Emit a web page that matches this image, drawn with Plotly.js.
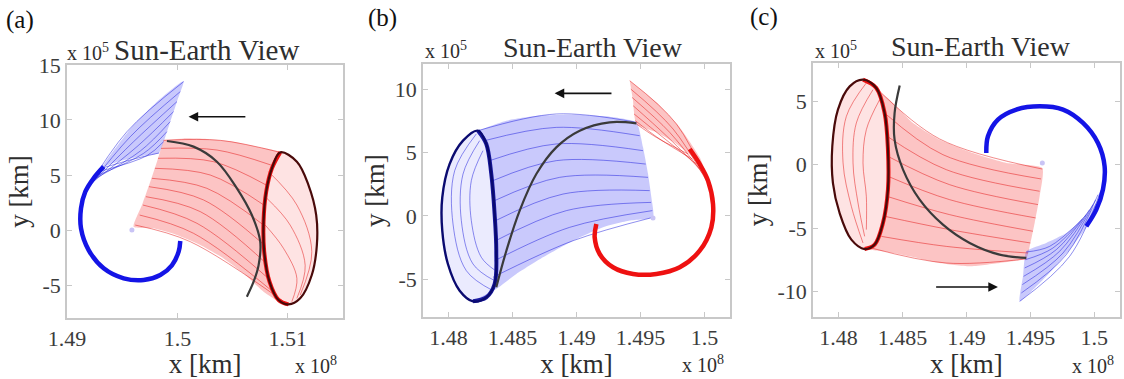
<!DOCTYPE html>
<html>
<head>
<meta charset="utf-8">
<script src="https://cdn.plot.ly/plotly-3.0.1.min.js"></script>
<style>
  html, body { margin: 0; padding: 0; background: #fff; }
  #chart { width: 1124px; height: 379px; }
</style>
</head>
<body>
<div id="chart"></div>
<script>
// Units: x in 1e8 km, y in 1e5 km (exponent shown beside each axis).

// ---------- Panel (a) ----------
const aXTicks = [1.49, 1.5, 1.51];
const aXTickText = ['1.49', '1.5', '1.51'];
const aYTicks = [-5, 0, 5, 10, 15];
const aYTickText = ['-5', '0', '5', '10', '15'];

const aOrbitX = [1.50931, 1.51082, 1.51187, 1.51257, 1.51263, 1.51217, 1.51112, 1.51006, 1.50916, 1.50834, 1.50786, 1.50780, 1.50804, 1.50856, 1.50931];
const aOrbitY = [7.06, 6.21, 4.09, 1.36, -1.36, -4.09, -6.21, -6.76, -6.36, -4.70, -1.97, 0.76, 3.48, 5.61, 7.06];
const aTrajX = [1.49905, 1.50146, 1.50358, 1.50539, 1.50674, 1.50750, 1.50735, 1.50690, 1.50629];
const aTrajY = [8.09, 7.58, 6.21, 3.79, 1.36, -1.06, -3.21, -4.70, -6.06];
const aSpiralX = [1.50026, 1.50011, 1.49950, 1.49845, 1.49694, 1.49513, 1.49332, 1.49196, 1.49127, 1.49127, 1.49166, 1.49241, 1.49332];
const aSpiralY = [-1.0, -1.97, -3.21, -4.09, -4.55, -4.39, -3.48, -1.82, 0.15, 1.97, 3.48, 4.70, 5.76];
const aBlueFanX = [1.49166, 1.49392, 1.49603, 1.49815, 1.50056, 1.49996, 1.49935, 1.49875, 1.49830, 1.49694, 1.49513, 1.49332];
const aBlueFanY = [3.48, 6.82, 9.55, 11.67, 13.55, 11.67, 9.85, 8.03, 6.97, 6.76, 6.36, 5.76];
// each row: start x, start y, mid x, mid y, end x, end y
const aBlueLines = [
  [1.49166, 3.48, 1.49543, 8.94, 1.50056, 13.48],
  [1.49187, 3.79, 1.49573, 8.48, 1.50026, 12.58],
  [1.49211, 4.09, 1.49603, 8.03, 1.49996, 11.67],
  [1.49235, 4.39, 1.49634, 7.58, 1.49965, 10.76],
  [1.49259, 4.70, 1.49664, 7.18, 1.49935, 9.85],
  [1.49284, 5.00, 1.49694, 6.97, 1.49905, 8.94],
  [1.49308, 5.36, 1.49724, 6.76, 1.49875, 8.03],
  [1.49332, 5.67, 1.49603, 6.45, 1.49833, 7.00]
];
// outline of the red family: top edge, orbit-facing side, lower edge, start edge
const aRedFanX = [1.49875, 1.50056, 1.50267, 1.50509, 1.50720, 1.50931, 1.50856, 1.50804, 1.50780, 1.50786, 1.50834, 1.50916, 1.51006, 1.50931, 1.50780, 1.50599, 1.50418, 1.50207, 1.49996, 1.49784, 1.49603, 1.49679, 1.49754, 1.49815];
const aRedFanY = [8.18, 8.33, 8.27, 8.03, 7.58, 7.06, 5.61, 3.48, 0.76, -1.97, -4.70, -6.36, -6.76, -6.58, -5.61, -3.94, -2.58, -1.36, -0.45, 0.15, 0.30, 2.27, 4.39, 6.21];
const aRedLines = [
  [1.49875, 8.15, 1.50388, 8.15, 1.50931, 7.06],
  [1.49851, 7.42, 1.50358, 7.27, 1.50846, 5.91],
  [1.49824, 6.52, 1.50327, 6.21, 1.50804, 4.09],
  [1.49796, 5.61, 1.50297, 5.00, 1.50783, 2.27],
  [1.49769, 4.70, 1.50267, 3.79, 1.50780, 0.45],
  [1.49742, 3.94, 1.50237, 2.73, 1.50786, -1.36],
  [1.49715, 3.03, 1.50207, 1.67, 1.50804, -3.03],
  [1.49688, 2.27, 1.50177, 0.61, 1.50840, -4.55],
  [1.49658, 1.36, 1.50146, -0.30, 1.50901, -5.91],
  [1.49618, 0.45, 1.50116, -1.06, 1.50991, -6.70]
];
const aRedInner = [
  [[1.50825, 5.30], [1.51082, 2.27], [1.51217, -1.97], [1.51112, -5.91]],
  [[1.50810, 2.88], [1.51021, 0.45], [1.51157, -3.21], [1.51082, -6.21]],
  [[1.50795, 0.45], [1.50961, -1.67], [1.51082, -4.39], [1.51036, -6.52]]
];
const aArrow = [1.50629, 10.30, 1.50101, 10.30];   // tail x, tail y, head x, head y
const aCenter = [1.49588, 0.0];

// ---------- Panel (b) ----------
const bXTicks = [1.48, 1.485, 1.49, 1.495, 1.5];
const bXTickText = ['1.48', '1.485', '1.49', '1.495', '1.5'];
const bYTicks = [-5, 0, 5, 10];
const bYTickText = ['-5', '0', '5', '10'];

const bOrbitX = [1.48230, 1.48113, 1.48008, 1.47951, 1.47951, 1.47995, 1.48087, 1.48191, 1.48295, 1.48360, 1.48373, 1.48360, 1.48334, 1.48295, 1.48230];
const bOrbitY = [6.73, 5.94, 4.09, 1.46, -1.18, -3.81, -5.92, -6.76, -6.45, -5.39, -2.76, 0.14, 3.30, 5.68, 6.73];
const bTrajX = [1.48373, 1.48452, 1.48556, 1.48686, 1.48842, 1.49025, 1.49259, 1.49468];
const bTrajY = [-5.65, -2.76, 0.41, 3.30, 5.41, 6.73, 7.39, 7.31];
const bBlueFanX = [1.48230, 1.48452, 1.48712, 1.48973, 1.49259, 1.49468, 1.49520, 1.49559, 1.49585, 1.49598, 1.49416, 1.49207, 1.48973, 1.48738, 1.48530, 1.48373, 1.48191, 1.48295, 1.48360, 1.48373, 1.48360, 1.48334, 1.48295];
const bBlueFanY = [6.73, 7.52, 7.92, 7.99, 7.84, 7.39, 5.41, 3.30, 1.46, -0.12, -0.38, -0.91, -1.97, -3.28, -4.60, -5.79, -6.76, -6.45, -5.39, -2.76, 0.14, 3.30, 5.68];
const bBlueLines = [
  [1.48230, 6.73, 1.48842, 8.05, 1.49468, 7.39],
  [1.48282, 5.94, 1.48842, 6.99, 1.49494, 6.33],
  [1.48321, 4.36, 1.48842, 5.68, 1.49520, 5.15],
  [1.48347, 2.78, 1.48842, 4.36, 1.49541, 4.09],
  [1.48360, 1.20, 1.48868, 3.04, 1.49559, 3.04],
  [1.48368, -0.38, 1.48895, 1.72, 1.49572, 1.99],
  [1.48368, -1.97, 1.48921, 0.41, 1.49583, 1.06],
  [1.48360, -3.55, 1.48947, -0.91, 1.49593, 0.41],
  [1.48347, -4.86, 1.48973, -1.97, 1.49598, -0.12]
];
const bBlueInner = [
  [[1.48217, 6.47], [1.48048, 3.57], [1.48035, -0.65], [1.48139, -4.34], [1.48347, -5.92]],
  [[1.48243, 5.94], [1.48113, 3.30], [1.48100, -0.38], [1.48191, -3.81], [1.48360, -5.13]],
  [[1.48269, 5.15], [1.48178, 2.78], [1.48178, -0.38], [1.48256, -3.28], [1.48368, -4.34]]
];
const bSpiralX = [1.49155, 1.49142, 1.49181, 1.49285, 1.49442, 1.49624, 1.49807, 1.49963, 1.50054, 1.50067, 1.50028, 1.49963, 1.49885];
const bSpiralY = [-0.65, -1.70, -3.02, -4.07, -4.60, -4.60, -4.07, -2.76, -0.91, 0.93, 2.78, 4.09, 5.28];
const bRedFanX = [1.49416, 1.49624, 1.49807, 1.49963, 1.50041, 1.49937, 1.49781, 1.49624, 1.49468, 1.49442];
const bRedFanY = [10.68, 8.97, 6.99, 4.62, 2.51, 4.36, 5.68, 6.60, 7.26, 9.10];
const bRedLines = [
  [1.50041, 2.25, 1.49781, 7.26, 1.49416, 10.68],
  [1.50015, 2.78, 1.49755, 6.86, 1.49424, 10.02],
  [1.49989, 3.30, 1.49728, 6.60, 1.49434, 9.36],
  [1.49963, 3.70, 1.49702, 6.33, 1.49442, 8.71],
  [1.49937, 4.09, 1.49676, 6.20, 1.49450, 8.05],
  [1.49906, 4.49, 1.49650, 6.07, 1.49460, 7.52],
  [1.49872, 4.89, 1.49624, 6.20, 1.49468, 7.26]
];
const bArrow = [1.49285, 9.68, 1.48829, 9.68];
const bCenter = [1.49598, -0.17];

// ---------- Panel (c) ----------
const cXTicks = [1.48, 1.485, 1.49, 1.495, 1.5];
const cXTickText = ['1.48', '1.485', '1.49', '1.495', '1.5'];
const cYTicks = [-10, -5, 0, 5];
const cYTickText = ['-10', '-5', '0', '5'];

const cOrbitX = [1.48191, 1.48087, 1.47995, 1.47951, 1.47956, 1.48008, 1.48100, 1.48204, 1.48282, 1.48347, 1.48386, 1.48386, 1.48360, 1.48295, 1.48191];
const cOrbitY = [6.69, 6.16, 4.33, 1.44, -1.45, -3.81, -5.91, -6.65, -6.30, -4.60, -1.97, 1.18, 4.06, 6.03, 6.69];
const cTrajX = [1.48478, 1.48438, 1.48438, 1.48504, 1.48634, 1.48816, 1.49025, 1.49259, 1.49468];
const cTrajY = [6.22, 4.06, 1.96, -0.40, -2.76, -4.73, -6.17, -7.09, -7.35];
const cRedFanX = [1.48191, 1.48399, 1.48582, 1.48790, 1.49051, 1.49311, 1.49593, 1.49572, 1.49533, 1.49494, 1.49468, 1.49259, 1.49025, 1.48790, 1.48556, 1.48347, 1.48204, 1.48282, 1.48347, 1.48386, 1.48386, 1.48360, 1.48295];
const cRedFanY = [6.74, 5.11, 3.28, 1.96, 0.91, 0.13, -0.27, -2.50, -4.60, -6.44, -7.35, -7.75, -8.01, -7.75, -7.22, -6.83, -6.65, -6.30, -4.60, -1.97, 1.18, 4.06, 6.03];
const cRedLines = [
  [1.48295, 6.03, 1.48790, 2.02, 1.49593, -0.35],
  [1.48360, 4.06, 1.48816, 0.78, 1.49583, -1.13],
  [1.48379, 2.23, 1.48842, -0.40, 1.49572, -2.10],
  [1.48386, 0.65, 1.48868, -1.58, 1.49559, -3.15],
  [1.48386, -0.92, 1.48868, -2.76, 1.49541, -4.20],
  [1.48379, -2.50, 1.48868, -3.94, 1.49520, -5.25],
  [1.48360, -4.07, 1.48868, -5.12, 1.49499, -6.17],
  [1.48334, -5.65, 1.48842, -6.44, 1.49481, -6.96],
  [1.48256, -6.57, 1.48842, -7.75, 1.49468, -7.43]
];
const cRedInner = [
  [[1.48217, 6.43], [1.48061, 3.80], [1.48035, 0.13], [1.48100, -3.29], [1.48191, -6.17]],
  [[1.48269, 5.90], [1.48139, 3.28], [1.48113, 0.13], [1.48152, -3.02], [1.48204, -5.65]],
  [[1.48321, 5.11], [1.48217, 2.75], [1.48191, 0.13], [1.48217, -2.50], [1.48217, -5.12]]
];
const cSpiralX = [1.49155, 1.49168, 1.49246, 1.49390, 1.49572, 1.49755, 1.49911, 1.50028, 1.50080, 1.50067, 1.50015, 1.49937];
const cSpiralY = [0.91, 2.23, 3.54, 4.33, 4.59, 4.33, 3.28, 1.70, -0.14, -1.97, -3.55, -4.86];
const cBlueFanX = [1.50054, 1.49976, 1.49807, 1.49624, 1.49416, 1.49442, 1.49468, 1.49624, 1.49781, 1.49924, 1.50015];
const cBlueFanY = [-1.71, -4.34, -6.70, -8.80, -10.77, -8.80, -6.83, -6.17, -5.39, -4.20, -3.02];
const cBlueLines = [
  [1.50054, -1.97, 1.49807, -7.22, 1.49416, -10.77],
  [1.50028, -2.37, 1.49781, -7.09, 1.49429, -10.11],
  [1.50010, -2.76, 1.49755, -6.96, 1.49437, -9.45],
  [1.49989, -3.15, 1.49728, -6.83, 1.49447, -8.80],
  [1.49963, -3.55, 1.49702, -6.70, 1.49455, -8.14],
  [1.49937, -3.94, 1.49676, -6.57, 1.49460, -7.49],
  [1.49906, -4.28, 1.49650, -6.44, 1.49468, -6.88]
];
const cArrow = [1.48751, -9.64, 1.49246, -9.64];
const cCenter = [1.49593, 0.13];

// ---------- styling ----------
const FONT = 'Liberation Serif, Times New Roman, serif';
const RED_FILL = 'rgba(245, 60, 60, 0.30)';
const BLUE_FILL = 'rgba(60, 60, 245, 0.28)';
const RED_INNER_FILL = 'rgba(245, 60, 60, 0.14)';
const BLUE_INNER_FILL = 'rgba(60, 60, 245, 0.10)';
const RED_THIN = 'rgba(225, 10, 10, 0.6)';
const BLUE_THIN = 'rgba(20, 20, 220, 0.6)';
const RED_THICK = '#ee1111';
const BLUE_THICK = '#1414e6';
const RED_EDGE = '#4a0a0a';
const BLUE_EDGE = '#0a0a70';
const TRAJ = '#3a3a3a';

const traces = [];
function line(xa, ya, x, y, color, width) {
  traces.push({ type: 'scatter', mode: 'lines', x, y, xaxis: xa, yaxis: ya,
    line: { color, width, shape: 'spline', smoothing: 1 }, hoverinfo: 'skip', showlegend: false });
}
function area(xa, ya, x, y, color) {
  traces.push({ type: 'scatter', mode: 'lines', x, y, xaxis: xa, yaxis: ya, fill: 'toself', fillcolor: color,
    line: { width: 0, shape: 'spline', smoothing: 0.5 }, hoverinfo: 'skip', showlegend: false });
}
function bundle(xa, ya, rows, color) {
  rows.forEach(r => line(xa, ya, [r[0], r[2], r[4]], [r[1], r[3], r[5]], color, 0.8));
}
function arcs(xa, ya, list, color) {
  list.forEach(a => line(xa, ya, a.map(p => p[0]), a.map(p => p[1]), color, 0.8));
}
function dot(xa, ya, c) {
  traces.push({ type: 'scatter', mode: 'markers', x: [c[0]], y: [c[1]], xaxis: xa, yaxis: ya,
    marker: { size: 5, color: '#c9c4f5' }, hoverinfo: 'skip', showlegend: false });
}

// (a): red transfer family onto the orbit on the right, blue departure spiral on the left
area('x', 'y', aOrbitX, aOrbitY, RED_INNER_FILL);
area('x', 'y', aRedFanX, aRedFanY, RED_FILL);
area('x', 'y', aBlueFanX, aBlueFanY, BLUE_FILL);
bundle('x', 'y', aRedLines, RED_THIN);
arcs('x', 'y', aRedInner, RED_THIN);
bundle('x', 'y', aBlueLines, BLUE_THIN);
line('x', 'y', aSpiralX, aSpiralY, BLUE_THICK, 4.5);
line('x', 'y', aOrbitX.slice(7), aOrbitY.slice(7), RED_THICK, 4);
line('x', 'y', aOrbitX, aOrbitY, RED_EDGE, 2.2);
line('x', 'y', aTrajX, aTrajY, TRAJ, 2.2);
dot('x', 'y', aCenter);

// (b): blue transfer family onto the orbit on the left, red spiral on the right
area('x2', 'y2', bOrbitX, bOrbitY, BLUE_INNER_FILL);
area('x2', 'y2', bBlueFanX, bBlueFanY, BLUE_FILL);
area('x2', 'y2', bRedFanX, bRedFanY, RED_FILL);
bundle('x2', 'y2', bBlueLines, BLUE_THIN);
arcs('x2', 'y2', bBlueInner, BLUE_THIN);
bundle('x2', 'y2', bRedLines, RED_THIN);
line('x2', 'y2', bSpiralX, bSpiralY, RED_THICK, 4.5);
line('x2', 'y2', bOrbitX.slice(7), bOrbitY.slice(7), '#1a1aa0', 4);
line('x2', 'y2', bOrbitX, bOrbitY, BLUE_EDGE, 2.4);
line('x2', 'y2', bTrajX, bTrajY, TRAJ, 2.2);
dot('x2', 'y2', bCenter);

// (c): red transfer family onto the orbit on the left, blue spiral on the right
area('x3', 'y3', cOrbitX, cOrbitY, RED_INNER_FILL);
area('x3', 'y3', cRedFanX, cRedFanY, RED_FILL);
area('x3', 'y3', cBlueFanX, cBlueFanY, BLUE_FILL);
bundle('x3', 'y3', cRedLines, RED_THIN);
arcs('x3', 'y3', cRedInner, RED_THIN);
bundle('x3', 'y3', cBlueLines, BLUE_THIN);
line('x3', 'y3', cSpiralX, cSpiralY, BLUE_THICK, 4.5);
line('x3', 'y3', cOrbitX.slice(7), cOrbitY.slice(7), RED_THICK, 4);
line('x3', 'y3', cOrbitX, cOrbitY, RED_EDGE, 2.2);
line('x3', 'y3', cTrajX, cTrajY, TRAJ, 2.2);
dot('x3', 'y3', cCenter);

// ---------- axes ----------
const axisBase = {
  showline: true, mirror: 'ticks', linecolor: '#c8c8c8', linewidth: 1.5,
  ticks: 'inside', ticklen: 5, tickcolor: '#c8c8c8', showgrid: false, zeroline: false,
  tickfont: { family: FONT, size: 22, color: '#3c3c3c' }, fixedrange: true, automargin: false
};
const xTitle = { text: 'x [km]', font: { family: FONT, size: 27, color: '#2e2e2e' }, standoff: 0 };
const yTitle = { text: 'y [km]', font: { family: FONT, size: 27, color: '#2e2e2e' }, standoff: 2 };

function xAxis(domain, range, vals, text, anchor) {
  return Object.assign({}, axisBase, { domain, range, tickvals: vals, ticktext: text, anchor, title: xTitle });
}
function yAxis(domain, range, vals, text, anchor) {
  return Object.assign({}, axisBase, { domain, range, tickvals: vals, ticktext: text, anchor, title: yTitle });
}

function arrow(xr, yr, a) {
  return { xref: xr, yref: yr, axref: xr, ayref: yr, x: a[2], y: a[3], ax: a[0], ay: a[1],
    showarrow: true, arrowhead: 2, arrowsize: 1.2, arrowwidth: 1.6, arrowcolor: '#111', text: '' };
}
function paperText(text, x, y, size, xanchor, color) {
  return { xref: 'paper', yref: 'paper', x, y, text, showarrow: false, xanchor, yanchor: 'middle',
    font: { family: FONT, size, color: color || '#2e2e2e' } };
}

const layout = {
  width: 1124, height: 379,
  margin: { l: 0, r: 0, t: 0, b: 0 },
  paper_bgcolor: '#fff', plot_bgcolor: '#fff',
  font: { family: FONT },
  showlegend: false,
  dragmode: false,
  xaxis: xAxis([0.0596, 0.3052], [1.49, 1.515], aXTicks, aXTickText, 'y'),
  yaxis: yAxis([0.1609, 0.8285], [-8, 15], aYTicks, aYTickText, 'x'),
  xaxis2: xAxis([0.3763, 0.6495], [1.478, 1.502], bXTicks, bXTickText, 'y2'),
  yaxis2: yAxis([0.1636, 0.8311], [-8, 12], bYTicks, bYTickText, 'x2'),
  xaxis3: xAxis([0.7233, 0.9964], [1.478, 1.502], cXTicks, cXTickText, 'y3'),
  yaxis3: yAxis([0.1636, 0.8338], [-12, 8], cYTicks, cYTickText, 'x3'),
  annotations: [
    paperText('(a)', 0.0178, 0.9472, 25, 'center', '#111'),
    paperText('(b)', 0.3399, 0.9525, 25, 'center', '#111'),
    paperText('(c)', 0.6797, 0.9551, 25, 'center', '#111'),
    paperText('Sun-Earth View', 0.1833, 0.8681, 29, 'center'),
    paperText('Sun-Earth View', 0.5276, 0.8734, 28, 'center'),
    paperText('Sun-Earth View', 0.8728, 0.8760, 28, 'center'),
    paperText('x 10<sup>5</sup>', 0.0578, 0.8628, 20, 'left'),
    paperText('x 10<sup>5</sup>', 0.3763, 0.8681, 20, 'left'),
    paperText('x 10<sup>5</sup>', 0.7233, 0.8681, 20, 'left'),
    paperText('x 10<sup>8</sup>', 0.2607, 0.0369, 20, 'left'),
    paperText('x 10<sup>8</sup>', 0.6050, 0.0396, 20, 'left'),
    paperText('x 10<sup>8</sup>', 0.9520, 0.0369, 20, 'left'),
    arrow('x', 'y', aArrow),
    arrow('x2', 'y2', bArrow),
    arrow('x3', 'y3', cArrow)
  ]
};

Plotly.newPlot('chart', traces, layout, { displayModeBar: false, responsive: false });
</script>
</body>
</html>
